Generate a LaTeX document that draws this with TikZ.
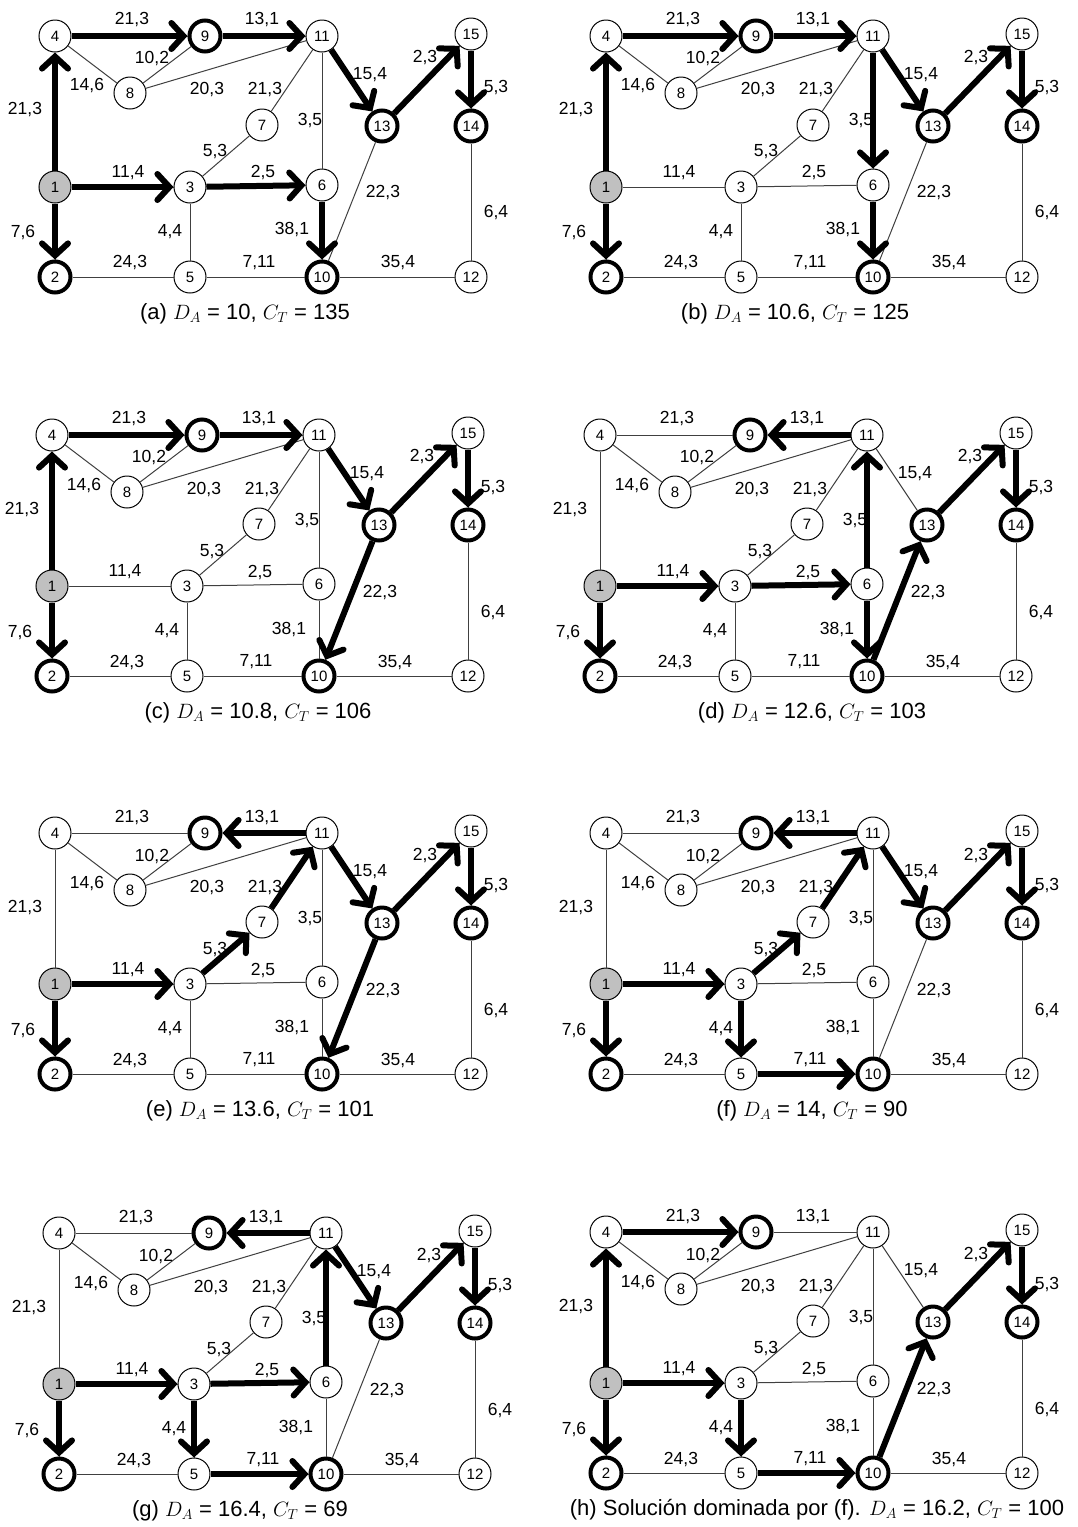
\documentclass[tikz,border=0pt]{standalone}
\usepackage{fontspec}
\setmainfont{Liberation Sans}
\usetikzlibrary{arrows.meta}
\definecolor{srcgray}{HTML}{C0C0C0}
\definecolor{edgegray}{HTML}{404040}
\tikzset{
  nd/.style={circle,draw=black,line width=1pt,minimum size=32pt,inner sep=0pt,fill=white,font=\fontsize{15}{15}\selectfont},
  ndthick/.style={nd,line width=4pt,minimum size=31pt},
  ndsrc/.style={nd,fill=srcgray},
  thinedge/.style={draw=edgegray,line width=1pt},
  thickedge/.style={draw=black,line width=6pt,-{Straight Barb[length=12pt,width=26pt,line width=6pt,line cap=round]}},
  elab/.style={font=\fontsize{17.5}{17.5}\selectfont,inner sep=0pt},
  captext/.style={font=\fontsize{22}{22}\selectfont,inner sep=0pt}
}
\newcommand\drawpanel[6]{%
\begin{scope}[shift={(#2,#3)}]
  \node[ndsrc]   (#1-1)  at (0,0) {1};
  \node[nd]      (#1-4)  at (0,-151) {4};
  \node[ndthick] (#1-9)  at (150,-151) {9};
  \node[nd]      (#1-11) at (267,-151) {11};
  \node[nd]      (#1-15) at (416,-153) {15};
  \node[nd]      (#1-8)  at (75,-94) {8};
  \node[nd]      (#1-7)  at (207,-62) {7};
  \node[ndthick] (#1-13) at (327,-61) {13};
  \node[ndthick] (#1-14) at (416,-61) {14};
  \node[nd]      (#1-3)  at (135,0) {3};
  \node[nd]      (#1-6)  at (267,-2) {6};
  \node[ndthick] (#1-2)  at (0,90) {2};
  \node[nd]      (#1-5)  at (135,90) {5};
  \node[ndthick] (#1-10) at (267,90) {10};
  \node[nd]      (#1-12) at (416,90) {12};
  \foreach \s/\t in {1/4,4/9,9/11,4/8,8/9,8/11,11/7,11/6,11/13,13/15,15/14,14/12,1/3,3/7,3/6,3/5,6/10,13/10,1/2,2/5,5/10,10/12}
    \draw[thinedge] (#1-\s) -- (#1-\t);
  \foreach \s/\t in {#4}
    \draw[thickedge] (#1-\s) -- (#1-\t);
  \node[elab] (#1-l4-9)   at (77,-167) {21,3};
  \node[elab] (#1-l9-11)  at (207,-167) {13,1};
  \node[elab] (#1-l8-9)   at (97,-128) {10,2};
  \node[elab] (#1-l4-8)   at (32,-101) {14,6};
  \node[elab] (#1-l8-11)  at (152,-97) {20,3};
  \node[elab] (#1-l7-11)  at (210,-97) {21,3};
  \node[elab] (#1-l11-13) at (315,-112) {15,4};
  \node[elab] (#1-l13-15) at (370,-129) {2,3};
  \node[elab] (#1-l15-14) at (441,-99) {5,3};
  \node[elab] (#1-l1-4)   at (-30,-77) {21,3};
  \node[elab] (#1-l11-6)  at (255,-66) {3,5};
  \node[elab] (#1-l3-7)   at (160,-35) {5,3};
  \node[elab] (#1-l1-3)   at (73,-14) {11,4};
  \node[elab] (#1-l3-6)   at (208,-14) {2,5};
  \node[elab] (#1-l13-10) at (328,6) {22,3};
  \node[elab] (#1-l14-12) at (441,26) {6,4};
  \node[elab] (#1-l1-2)   at (-32,46) {7,6};
  \node[elab] (#1-l3-5)   at (115,45) {4,4};
  \node[elab] (#1-l6-10)  at (237,43) {38,1};
  \node[elab] (#1-l2-5)   at (75,76) {24,3};
  \node[elab] (#1-l5-10)  at (204,76) {7,11};
  \node[elab] (#1-l10-12) at (343,76) {35,4};
  \node[captext] (#1-cap) at (#5,127) {#6};
\end{scope}}
\begin{document}
\begin{tikzpicture}[x=1pt,y=-1pt]
\useasboundingbox (0,0) rectangle (1077,1527);
\fill[white] (0,0) rectangle (1077,1527);
\drawpanel{a}{55}{187}{1/4,4/9,9/11,11/13,13/15,15/14,1/3,3/6,6/10,1/2}{190}{(a) $D_A$ = 10, $C_T$ = 135}
\drawpanel{b}{606}{187}{1/4,4/9,9/11,11/6,11/13,13/15,15/14,6/10,1/2}{189}{(b) $D_A$ = 10.6, $C_T$ = 125}
\drawpanel{c}{52}{586}{1/4,4/9,9/11,11/13,13/15,15/14,13/10,1/2}{206}{(c) $D_A$ = 10.8, $C_T$ = 106}
\drawpanel{d}{600}{586}{11/9,6/11,1/3,3/6,6/10,10/13,13/15,15/14,1/2}{212}{(d) $D_A$ = 12.6, $C_T$ = 103}
\drawpanel{e}{55}{984}{11/9,1/3,3/7,7/11,11/13,13/15,15/14,13/10,1/2}{205}{(e) $D_A$ = 13.6, $C_T$ = 101}
\drawpanel{f}{606}{984}{11/9,1/3,3/7,7/11,11/13,13/15,15/14,3/5,5/10,1/2}{206}{(f) $D_A$ = 14, $C_T$ = 90}
\drawpanel{g}{59}{1384}{11/9,1/3,3/6,6/11,11/13,13/15,15/14,3/5,5/10,1/2}{181}{(g) $D_A$ = 16.4, $C_T$ = 69}
\drawpanel{h}{606}{1383}{1/4,4/9,1/3,3/5,5/10,10/13,13/15,15/14,1/2}{211}{(h) Solución dominada por (f). $D_A$ = 16.2, $C_T$ = 100}
\end{tikzpicture}
\end{document}
